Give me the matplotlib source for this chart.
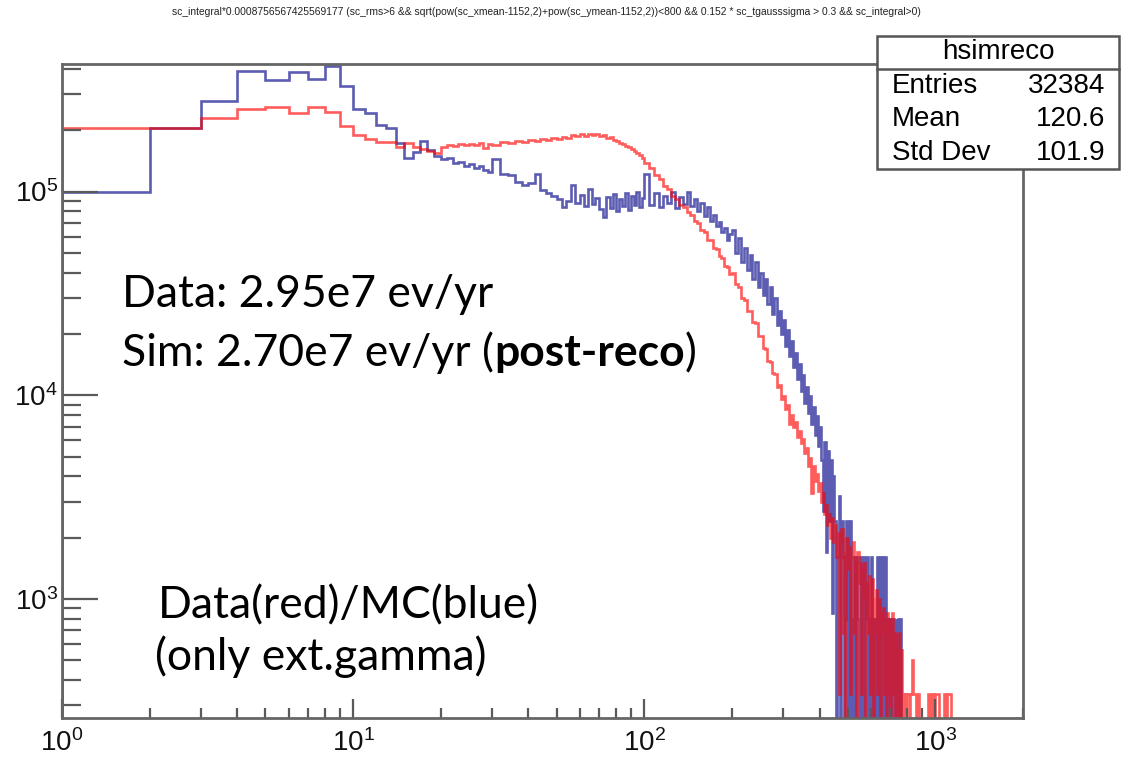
import numpy as np
import matplotlib
matplotlib.use("Agg")
import matplotlib.pyplot as plt
from matplotlib.patches import Rectangle
from matplotlib.lines import Line2D
from matplotlib.ticker import LogLocator, NullFormatter

plt.rcParams['font.family'] = ['Liberation Sans', 'DejaVu Sans']

# --- binning: integer bins at low x, wider bins further out (start, width) ---
seg_start = [1, 30, 100, 200, 450, 800]
seg_width = [1, 2, 4, 5, 5, 10]

# --- MC (blue, hsimreco) ---
mc_low = [1.00e5, 2.05e5, 2.79e5, 3.92e5, 3.54e5, 3.85e5, 3.58e5, 4.12e5, 3.28e5,
          2.54e5, 2.44e5, 2.13e5, 2.06e5, 1.74e5, 1.46e5, 1.56e5, 1.78e5, 1.60e5,
          1.50e5, 1.44e5, 1.46e5, 1.38e5, 1.40e5, 1.33e5, 1.36e5, 1.30e5, 1.33e5,
          1.27e5, 1.25e5]
mc_mid = [1.44e5, 1.22e5, 1.20e5, 1.12e5, 1.08e5, 1.10e5, 1.22e5, 1.02e5, 9.8e4,
          9.5e4, 9.2e4, 8.4e4, 9.0e4, 1.08e5, 8.8e4, 9.6e4, 8.5e4, 1.03e5, 8.7e4,
          9.3e4, 8.2e4, 7.5e4, 9.4e4, 8.3e4, 9.7e4, 8.0e4, 9.2e4, 8.5e4, 9.8e4,
          8.1e4, 9.5e4, 8.6e4, 1.00e5, 8.4e4, 9.3e4]
mc_peak = [1.22e5, 8.6e4, 9.8e4, 8.4e4, 9.5e4, 8.8e4, 1.00e5, 8.3e4, 9.4e4, 8.7e4,
           9.9e4, 8.5e4, 9.2e4, 8.0e4, 8.8e4, 7.6e4, 8.4e4, 7.2e4, 7.7e4, 6.8e4,
           7.1e4, 6.3e4, 6.6e4, 5.8e4, 6.2e4]
mc_fall = [6.5e4, 5.0e4, 5.9e4, 4.5e4, 5.3e4, 4.1e4, 4.9e4, 3.7e4, 4.5e4, 3.4e4,
           4.0e4, 3.1e4, 3.7e4, 2.8e4, 3.4e4, 2.5e4, 3.0e4, 2.2e4, 2.6e4, 2.0e4,
           2.35e4, 1.75e4, 2.1e4, 1.55e4, 1.85e4, 1.38e4, 1.62e4, 1.2e4, 1.43e4, 1.05e4,
           1.26e4, 9.2e3, 1.1e4, 8.2e3, 9.9e3, 7.2e3, 8.8e3, 6.4e3, 7.9e3, 5.6e3,
           7.0e3, 4.8e3, 2.7e3, 5.9e3, 1.7e3, 5.3e3, 2.4e3, 4.8e3, 850, 4.0e3]
mc_tail = [2400, 0, 1600, 3200, 0, 2400, 1600, 0, 800, 2400,
           0, 1600, 2400, 0, 800, 1600, 0, 1600, 800, 0,
           1600, 800, 0, 1600, 0, 800, 1600, 0, 800, 0,
           1600, 0, 800, 0, 0, 800, 1600, 0, 800, 1600,
           0, 1600, 0, 800, 1600, 0, 800, 0, 0, 800,
           0, 800, 0, 800, 0, 0, 800, 0, 0, 800,
           0, 800, 0, 0, 0, 0, 0, 0, 0, 0]
mc_far = [0] * 35

# --- Data (red) ---
data_low = [2.05e5, 2.05e5, 2.30e5, 2.54e5, 2.60e5, 2.44e5, 2.59e5, 2.47e5, 2.10e5,
            1.90e5, 1.82e5, 1.76e5, 1.76e5, 1.66e5, 1.73e5, 1.66e5, 1.62e5, 1.58e5,
            1.55e5, 1.66e5, 1.70e5, 1.67e5, 1.71e5, 1.69e5, 1.72e5, 1.70e5, 1.74e5,
            1.64e5, 1.72e5]
data_mid = [1.70e5, 1.75e5, 1.73e5, 1.77e5, 1.75e5, 1.79e5, 1.77e5, 1.81e5, 1.79e5,
            1.84e5, 1.82e5, 1.86e5, 1.84e5, 1.89e5, 1.87e5, 1.91e5, 1.88e5, 1.92e5,
            1.89e5, 1.91e5, 1.87e5, 1.89e5, 1.84e5, 1.85e5, 1.80e5, 1.78e5, 1.74e5,
            1.72e5, 1.67e5, 1.65e5, 1.61e5, 1.59e5, 1.55e5, 1.51e5, 1.46e5]
data_peak = [1.38e5, 1.31e5, 1.21e5, 1.15e5, 1.07e5, 1.03e5, 9.5e4, 9.2e4, 8.6e4, 8.4e4,
             7.9e4, 7.7e4, 7.2e4, 7.0e4, 6.5e4, 6.3e4, 5.8e4, 5.8e4, 5.3e4, 5.2e4,
             4.8e4, 4.7e4, 4.3e4, 4.25e4, 3.95e4]
data_fall = [4.0e4, 3.5e4, 3.4e4, 3.0e4, 2.95e4, 2.6e4, 2.6e4, 2.3e4, 2.25e4, 1.95e4,
             1.95e4, 1.7e4, 1.68e4, 1.47e4, 1.46e4, 1.28e4, 1.27e4, 1.10e4, 1.12e4, 9.6e3,
             9.9e3, 8.6e3, 9.0e3, 7.2e3, 8.0e3, 7.0e3, 7.4e3, 6.2e3, 6.7e3, 5.8e3,
             6.1e3, 5.2e3, 5.5e3, 4.5e3, 4.9e3, 3.3e3, 4.5e3, 3.8e3, 4.1e3, 3.4e3,
             3.7e3, 3.0e3, 3.3e3, 2.6e3, 2.9e3, 2.3e3, 2.6e3, 2.0e3, 2.5e3, 1.9e3]
data_tail = [2300, 1600, 2100, 340, 1900, 2200, 680, 1700, 0, 2000,
             1400, 1800, 340, 1600, 1900, 680, 1500, 0, 1700, 1200,
             1500, 340, 1400, 1000, 1500, 0, 1200, 680, 1300, 340,
             1100, 1250, 0, 1000, 680, 1100, 340, 900, 1000, 0,
             850, 680, 900, 340, 800, 0, 850, 680, 340, 800,
             0, 680, 850, 340, 680, 0, 680, 340, 560, 0,
             680, 340, 0, 560, 340, 0, 340, 340, 0, 340]
data_far = [340, 0, 340, 500, 340, 340, 0, 340, 0, 0,
            0, 0, 0, 0, 340, 340, 0, 340, 340, 0,
            340, 340, 340, 0, 0, 0, 0, 340, 340, 0,
            340, 340, 340, 0, 0]

title = ("sc_integral*0.0008756567425569177 (sc_rms>6 && sqrt(pow(sc_xmean-1152,2)"
         "+pow(sc_ymean-1152,2))<800 && 0.152 * sc_tgausssigma > 0.3 && sc_integral>0)")
stats_name = "hsimreco"
stats_rows = [("Entries", "32384"), ("Mean", "120.6"), ("Std Dev", "101.9")]


def build(parts):
    edges = [seg_start[0]]
    vals = []
    for start, width, v in zip(seg_start, seg_width, parts):
        edges += list(start + width * np.arange(1, len(v) + 1))
        vals += v
    return np.array(edges, float), np.array(vals, float)


mc_edges, mc_vals = build([mc_low, mc_mid, mc_peak, mc_fall, mc_tail, mc_far])
data_edges, data_vals = build([data_low, data_mid, data_peak, data_fall, data_tail, data_far])

W, H = 1122, 757
fig = plt.figure(figsize=(W / 100, H / 100), dpi=100)
ax = fig.add_axes([62 / W, 1 - 718 / H, 961 / W, 654 / H])

# empty bins fall off the bottom of the log axis, like ROOT does
floor = 1.0
ax.stairs(np.where(mc_vals > 0, mc_vals, floor), mc_edges, baseline=floor,
          color='#000088', alpha=0.64, lw=1.9)
ax.stairs(np.where(data_vals > 0, data_vals, floor), data_edges, baseline=floor,
          color='#ff0000', alpha=0.64, lw=1.9)

ax.set_xscale('log')
ax.set_yscale('log')
ax.set_xlim(1, 2000)
ax.set_ylim(260, 4.23e5)

for a in (ax.xaxis, ax.yaxis):
    a.set_minor_locator(LogLocator(base=10, subs=np.arange(2, 10), numticks=50))
    a.set_minor_formatter(NullFormatter())

ax.tick_params(which='both', direction='in', top=False, right=False,
               color='#5a5a5a', width=1.6, labelsize=20, labelcolor='#111111')
ax.tick_params(axis='y', which='major', length=26, pad=3)
ax.tick_params(axis='y', which='minor', length=13.5)
ax.tick_params(axis='x', which='major', length=14, pad=8)
ax.tick_params(axis='x', which='minor', length=7)
for s in ax.spines.values():
    s.set_color('#666666')
    s.set_linewidth(2)

fig.text(0.487, 1 - 12 / H, title, ha='center', va='center', fontsize=7.4, color='#222222')

# stats box
bx0, bx1, by0, by1 = 877 / W, 1119 / W, 1 - 169 / H, 1 - 36 / H
fig.add_artist(Rectangle((bx0, by0), bx1 - bx0, by1 - by0, transform=fig.transFigure,
                         facecolor='white', edgecolor='#555555', lw=1.8, zorder=10))
fig.add_artist(Line2D([bx0, bx1], [1 - 69 / H] * 2, transform=fig.transFigure,
                      color='#555555', lw=1.8, zorder=11))
fig.text((bx0 + bx1) / 2, 1 - 52 / H, stats_name, ha='center', va='center',
         fontsize=20, zorder=12)
for i, (k, v) in enumerate(stats_rows):
    yy = 1 - (86 + 33.5 * i) / H
    fig.text(892 / W, yy, k, ha='left', va='center', fontsize=20, zorder=12)
    fig.text(1105 / W, yy, v, ha='right', va='center', fontsize=20, zorder=12)

# slide annotations
note = dict(family=['Lato', 'DejaVu Sans'], fontsize=32, color='black', va='baseline')
fig.text(122 / W, 1 - 307 / H, "Data: 2.95e7 ev/yr", **note)
t1 = fig.text(122 / W, 1 - 366 / H, "Sim: 2.70e7 ev/yr (", **note)
fig.canvas.draw()
r = fig.canvas.get_renderer()
x_next = t1.get_window_extent(r).x1
t2 = fig.text(x_next / W, 1 - 366 / H, "post-reco", fontweight='bold', **note)
x_next = t2.get_window_extent(r).x1
fig.text(x_next / W, 1 - 366 / H, ")", **note)
fig.text(158 / W, 1 - 618 / H, "Data(red)/MC(blue)", **note)
fig.text(155 / W, 1 - 670 / H, "(only ext.gamma)", **note)

fig.savefig("out.png", dpi=100)
